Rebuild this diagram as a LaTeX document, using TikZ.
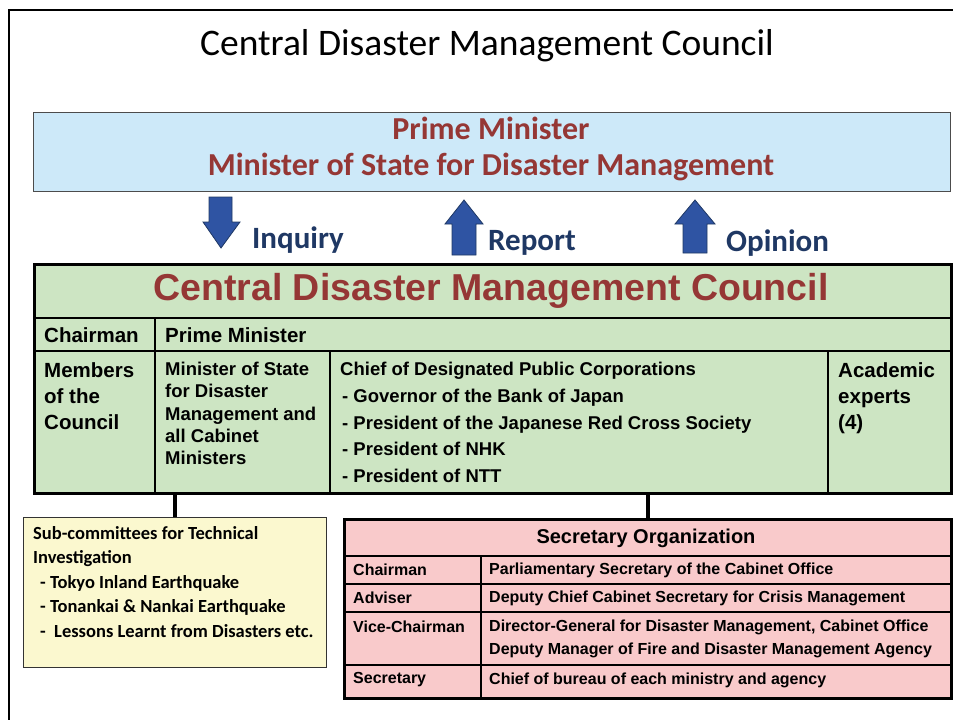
\documentclass[tikz,border=0pt]{standalone}
\usepackage{fontspec}
\setmainfont{Carlito}
\newfontfamily\arial{Liberation Sans}
\definecolor{cblue}{HTML}{CDE9F9}
\definecolor{cgreen}{HTML}{CDE5C3}
\definecolor{cpink}{HTML}{F9CACB}
\definecolor{cyellow}{HTML}{FBF8CF}
\definecolor{cred}{HTML}{953735}
\definecolor{cnavy}{HTML}{1F3864}
\definecolor{carrow}{HTML}{2F54A3}
\tikzset{
  box/.style={draw, anchor=north west, inner sep=0pt},
  grid/.style={line width=2.5pt},
  fatarrow/.style={draw=cnavy, fill=carrow, line width=0.8pt, line join=miter},
  armlabel/.style={text=cnavy, font=\bfseries\fontsize{31}{36}\selectfont, inner sep=0pt},
  cell/.style={anchor=north west, align=left, inner sep=0pt},
  bigcell/.style={cell, font=\arial\bfseries\fontsize{20.5}{26}\selectfont},
  seccell/.style={anchor=west, inner sep=0pt, font=\arial\bfseries\fontsize{16}{23}\selectfont}
}
\begin{document}
\begin{tikzpicture}[x=1pt, y=-1pt]
\useasboundingbox (0,0) rectangle (953,720);
\draw[line width=2pt] (9,720) -- (9,10) -- (953,10);
\node (title) at (487,46) {\fontsize{37.5}{40}\selectfont Central Disaster Management Council};

\node[box, draw=black!70, line width=0.8pt, fill=cblue, minimum width=917, minimum height=79] (pm) at (33,112) {};
\node[text=cred, font=\bfseries\fontsize{32}{36}\selectfont] (pmname) at (491,128) {Prime Minister};
\node[text=cred, font=\bfseries\fontsize{32}{36}\selectfont] (msname) at (491,167) {Minister of State for Disaster Management};

\draw[fatarrow] (209,197) -- (232,197) -- (232,222) -- (240,222) -- (221,248) -- (203,222) -- (209,222) -- cycle;
\draw[fatarrow] (452,255) -- (476,255) -- (476,224) -- (483,224) -- (464,200) -- (445,224) -- (452,224) -- cycle;
\draw[fatarrow] (683,253) -- (707,253) -- (707,224) -- (715,224) -- (695,200) -- (675,224) -- (683,224) -- cycle;
\node[armlabel, anchor=west] (inquiry) at (252,240) {Inquiry};
\node[armlabel, anchor=west] (report) at (488,243) {Report};
\node[armlabel, anchor=west] (opinion) at (726,243) {Opinion};

\node[box, fill=cgreen, line width=3pt, minimum width=917, minimum height=229] (council) at (33,263) {};
\node[text=cred, font=\arial\bfseries\fontsize{37.5}{40}\selectfont] (counciltitle) at (491,291) {Central Disaster Management Council};
\draw[grid] (33,318) -- (950,318);
\draw[grid] (33,351) -- (950,351);
\draw[grid] (155,318) -- (155,492);
\draw[grid] (330,351) -- (330,492);
\draw[grid] (828,351) -- (828,492);
\node[bigcell, anchor=west] (chair) at (44,335) {Chairman};
\node[bigcell, anchor=west] (chairpm) at (165,335) {Prime Minister};
\node[bigcell] (members) at (44,362) {Members\\of the\\Council};
\node[cell, font=\arial\bfseries\fontsize{18.5}{22.3}\selectfont] (ministers) at (165,362)
  {Minister of State\\for Disaster\\Management and\\all Cabinet\\Ministers};
\node[cell, font=\arial\bfseries\fontsize{18.5}{26.7}\selectfont] (chiefs) at (340,362)
  {Chief of Designated Public Corporations\\
   \hspace{2pt}- Governor of the Bank of Japan\\
   \hspace{2pt}- President of the Japanese Red Cross Society\\
   \hspace{2pt}- President of NHK\\
   \hspace{2pt}- President of NTT};
\node[bigcell] (experts) at (838,362) {Academic\\experts\\(4)};

\node[box, draw=black!80, line width=1pt, fill=cyellow, minimum width=303, minimum height=150] (subcom) at (23,517) {};
\node[cell, font=\bfseries\fontsize{18.5}{24.5}\selectfont] (subtext) at (33,526)
  {Sub-committees for Technical\\
   Investigation\\
   \hspace{7pt}- Tokyo Inland Earthquake\\
   \hspace{7pt}- Tonankai \& Nankai Earthquake\\
   \hspace{7pt}-\ \ Lessons Learnt from Disasters etc.};

\node[box, fill=cpink, line width=3pt, minimum width=607, minimum height=179] (secorg) at (343,518) {};
\node[font=\arial\bfseries\fontsize{20}{24}\selectfont] (sectitle) at (646,538) {Secretary Organization};
\draw[grid] (343,556) -- (950,556);
\draw[grid] (343,584) -- (950,584);
\draw[grid] (343,612) -- (950,612);
\draw[grid] (343,665) -- (950,665);
\draw[grid] (481,556) -- (481,697);
\node[seccell] (schair) at (353,570) {Chairman};
\node[seccell] (sadviser) at (353,598) {Adviser};
\node[seccell] (svice) at (353,627) {Vice-Chairman};
\node[seccell] (ssec) at (353,680) {Secretary};
\node[seccell] (schairname) at (489,570) {Parliamentary Secretary of the Cabinet Office};
\node[seccell] (sadvisername) at (489,598) {Deputy Chief Cabinet Secretary for Crisis Management};
\node[seccell] (svicename) at (489,627) {Director-General for Disaster Management, Cabinet Office};
\node[seccell] (svicename2) at (489,650) {Deputy Manager of Fire and Disaster Management Agency};
\node[seccell] (ssecname) at (489,680) {Chief of bureau of each ministry and agency};

\draw[line width=4pt] (council.south -| subcom.north) -- (subcom.north);
\draw[line width=4pt] (council.south -| secorg.north) -- (secorg.north);
\end{tikzpicture}
\end{document}
